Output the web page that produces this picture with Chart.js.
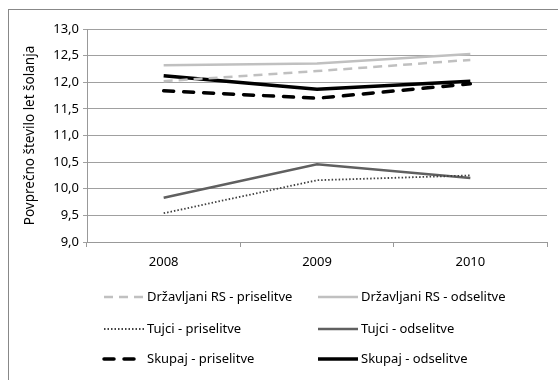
<!DOCTYPE html>
<html>
<head>
<meta charset="utf-8">
<script src="https://cdn.jsdelivr.net/npm/chart.js@4/dist/chart.umd.min.js"></script>
<style>
  html, body { margin: 0; padding: 0; background: #fff; }
  #wrap { position: relative; width: 558px; height: 380px; overflow: hidden; }
  #frame { position: absolute; left: 8px; top: 9px; width: 600px; height: 400px; border: 1px solid #888; box-sizing: border-box; }
  canvas { position: absolute; left: 0; top: 0; }
</style>
</head>
<body>
<div id="wrap">
  <div id="frame"></div>
  <canvas id="chart" width="558" height="380"></canvas>
</div>
<script>
// categories and series (average years of schooling)
const years = ['2008', '2009', '2010'];
const drzPri = [12.02, 12.21, 12.42];
const drzOds = [12.32, 12.35, 12.53];
const tujPri = [9.54, 10.16, 10.25];
const tujOds = [9.83, 10.46, 10.20];
const skuPri = [11.84, 11.70, 11.97];
const skuOds = [12.12, 11.87, 12.02];
const yTicks = [9.0, 9.5, 10.0, 10.5, 11.0, 11.5, 12.0, 12.5, 13.0];

const FONT = '"Noto Sans", sans-serif';

// legend drawn in two columns like the Excel original
const legendPlugin = {
    id: 'twoColLegend',
    afterDraw(chart) {
        const ctx = chart.ctx;
        const cols = [104, 318];
        const rows = [297, 329, 359];
        chart.data.datasets.forEach((ds, i) => {
            const x = cols[i % 2];
            const y = rows[Math.floor(i / 2)];
            ctx.save();
            ctx.strokeStyle = ds.borderColor;
            ctx.lineWidth = ds.borderWidth;
            ctx.setLineDash(ds.borderDash || []);
            ctx.lineCap = ds.borderCapStyle || 'butt';
            ctx.beginPath();
            ctx.moveTo(x, y);
            ctx.lineTo(x + 40, y);
            ctx.stroke();
            ctx.setLineDash([]);
            ctx.fillStyle = '#000';
            ctx.font = '13px ' + FONT;
            ctx.textBaseline = 'middle';
            ctx.fillText(ds.label, x + 43, y);
            ctx.restore();
        });
    }
};

new Chart(document.getElementById('chart'), {
    type: 'line',
    data: {
        labels: years,
        datasets: [
            { label: 'Državljani RS - priselitve', data: drzPri, borderColor: '#c0c0c0', borderWidth: 2.5, borderDash: [9, 6] },
            { label: 'Državljani RS - odselitve', data: drzOds, borderColor: '#c0c0c0', borderWidth: 2.5 },
            { label: 'Tujci - priselitve', data: tujPri, borderColor: '#404040', borderWidth: 1.8, borderDash: [1.5, 2] },
            { label: 'Tujci - odselitve', data: tujOds, borderColor: '#606060', borderWidth: 2.5 },
            { label: 'Skupaj - priselitve', data: skuPri, borderColor: '#000000', borderWidth: 3.5, borderDash: [10, 10], borderCapStyle: 'round' },
            { label: 'Skupaj - odselitve', data: skuOds, borderColor: '#000000', borderWidth: 3.5 }
        ]
    },
    options: {
        responsive: false,
        animation: false,
        elements: { point: { radius: 0 }, line: { tension: 0 } },
        layout: { padding: { left: 14, top: 29, right: 11, bottom: 0 } },
        plugins: { legend: { display: false }, tooltip: { enabled: false } },
        scales: {
            x: {
                offset: true,
                grid: { drawOnChartArea: false, drawTicks: true, tickLength: 5, color: '#999', offset: true },
                border: { color: '#999' },
                ticks: { color: '#000', padding: 7, font: { family: FONT, size: 13 } },
                afterFit(scale) { scale.height = 138; }
            },
            y: {
                min: 9, max: 13,
                afterBuildTicks(scale) { scale.ticks = yTicks.map(v => ({ value: v })); },
                grid: { color: '#a0a0a0', tickLength: 4 },
                border: { color: '#999' },
                ticks: { color: '#000', padding: 4, font: { family: FONT, size: 13 },
                    callback: v => v.toFixed(1).replace('.', ',') },
                title: { display: true, text: 'Povprečno število let šolanja', color: '#000',
                    font: { family: FONT, size: 13.5 }, padding: { top: 8, bottom: 0 } },
                afterFit(scale) { scale.width = 73; }
            }
        }
    },
    plugins: [legendPlugin]
});
</script>
</body>
</html>
